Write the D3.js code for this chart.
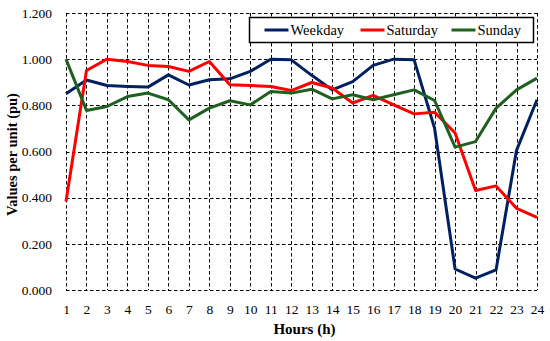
<!DOCTYPE html>
<html>
<head>
<meta charset="utf-8">
<script src="https://d3js.org/d3.v7.min.js"></script>
<style>
    html, body { margin: 0; padding: 0; background: #fff; }
    svg text { font-family: "Liberation Serif", "DejaVu Serif", serif; fill: #000; }
    .grid line, .frame { stroke: #000; stroke-width: 1; stroke-dasharray: 3.5 2.5; fill: none; }
    .series { fill: none; stroke-width: 3; stroke-linejoin: round; }
</style>
</head>
<body>
<svg id="chart" width="550" height="341"></svg>
<script>
    var hours = d3.range(1, 25);
    var yTicks = [0, 0.2, 0.4, 0.6, 0.8, 1.0, 1.2];

    var weekday = [0.850, 0.910, 0.886, 0.882, 0.879, 0.932, 0.888, 0.911, 0.915, 0.947, 1.000, 0.997,
                   0.930, 0.867, 0.903, 0.973, 1.000, 0.997, 0.700, 0.091, 0.051, 0.087, 0.605, 0.824];
    var saturday = [0.383, 0.951, 1.000, 0.990, 0.973, 0.968, 0.947, 0.990, 0.889, 0.886, 0.882, 0.864,
                    0.899, 0.875, 0.810, 0.843, 0.802, 0.763, 0.770, 0.680, 0.431, 0.451, 0.354, 0.315];
    var sunday = [1.000, 0.778, 0.795, 0.838, 0.853, 0.824, 0.737, 0.788, 0.820, 0.802, 0.860, 0.853,
                  0.870, 0.828, 0.846, 0.824, 0.846, 0.867, 0.821, 0.619, 0.643, 0.788, 0.867, 0.918];

    var seriesNames = ["Weekday", "Saturday", "Sunday"];
    var seriesValues = [weekday, saturday, sunday];
    var seriesColors = ["#002060", "#ff0000", "#1f5f1f"];

    var margin = {top: 13, right: 13, bottom: 51, left: 66};
    var width = 550 - margin.left - margin.right,
        height = 341 - margin.top - margin.bottom;

    var svg = d3.select("#chart");
    var g = svg.append("g").attr("transform", "translate(" + margin.left + "," + margin.top + ")");

    var x = d3.scaleLinear().domain([1, 24]).range([0, width]);
    var y = d3.scaleLinear().domain([0, 1.2]).range([height, 0]);

    // dashed grid
    var grid = g.append("g").attr("class", "grid");
    grid.selectAll("line.v").data(hours).enter().append("line")
        .attr("x1", function (d) { return Math.round(x(d)) + 0.5; })
        .attr("x2", function (d) { return Math.round(x(d)) + 0.5; })
        .attr("y1", 0).attr("y2", height);
    grid.selectAll("line.h").data(yTicks).enter().append("line")
        .attr("y1", function (d) { return Math.round(y(d)) + 0.5; })
        .attr("y2", function (d) { return Math.round(y(d)) + 0.5; })
        .attr("x1", 0).attr("x2", width);

    // axes (text only)
    var xAxis = g.append("g").attr("transform", "translate(0," + height + ")")
        .call(d3.axisBottom(x).tickValues(hours).tickFormat(d3.format("d")).tickSize(0).tickPadding(14));
    var yAxis = g.append("g")
        .call(d3.axisLeft(y).tickValues(yTicks).tickFormat(d3.format(".3f")).tickSize(0).tickPadding(14));
    [xAxis, yAxis].forEach(function (a) {
        a.select(".domain").remove();
        a.selectAll("text").style("font-size", "13.5px").attr("font-family", null);
    });

    // lines
    var line = d3.line()
        .x(function (d, i) { return x(hours[i]); })
        .y(function (d) { return y(d); });

    seriesValues.forEach(function (vals, k) {
        g.append("path").datum(vals)
            .attr("class", "series")
            .attr("stroke", seriesColors[k])
            .attr("d", line);
    });

    // legend
    var legend = svg.append("g").attr("transform", "translate(249.5,17.5)");
    legend.append("rect").attr("width", 284).attr("height", 25)
        .attr("fill", "#fff").attr("stroke", "#000").attr("stroke-width", 1.5);
    var legendX = [15, 111, 202];
    seriesNames.forEach(function (name, k) {
        var it = legend.append("g").attr("transform", "translate(" + legendX[k] + ",12.5)");
        it.append("line").attr("x1", 0).attr("x2", 24)
            .attr("stroke", seriesColors[k]).attr("stroke-width", 3);
        it.append("text").attr("x", 26).attr("dy", "0.35em")
            .style("font-size", "14.5px").text(name);
    });

    // axis titles
    svg.append("text")
        .attr("x", margin.left + width / 2 + 3).attr("y", 334)
        .attr("text-anchor", "middle")
        .style("font-size", "15px").style("font-weight", "bold")
        .text("Hours (h)");
    svg.append("text")
        .attr("transform", "translate(17," + (margin.top + height / 2 + 3) + ") rotate(-90)")
        .attr("text-anchor", "middle")
        .style("font-size", "14.5px").style("font-weight", "bold")
        .text("Values per unit (pu)");
</script>
</body>
</html>
